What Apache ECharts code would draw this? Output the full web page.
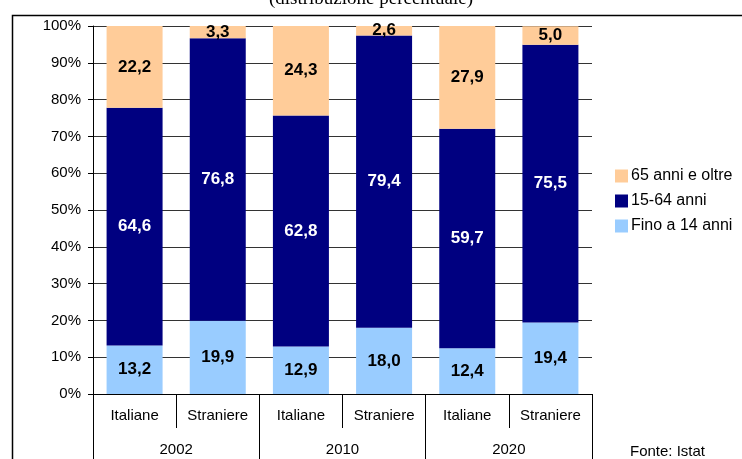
<!DOCTYPE html>
<html>
<head>
<meta charset="utf-8">
<script src="https://cdn.jsdelivr.net/npm/echarts@6/dist/echarts.min.js"></script>
<style>
  html, body { margin: 0; padding: 0; background: #fff; }
  #chart { width: 742px; height: 459px; }
</style>
</head>
<body>
<div id="chart"></div>
<script>
// categorie
const gruppi = ['Italiane', 'Straniere', 'Italiane', 'Straniere', 'Italiane', 'Straniere']
const anni = ['2002', '2010', '2020']
const yTicks = [0, 10, 20, 30, 40, 50, 60, 70, 80, 90, 100]

// valori (%)
const fino14 = [13.2, 19.9, 12.9, 18.0, 12.4, 19.4]
const da15a64 = [64.6, 76.8, 62.8, 79.4, 59.7, 75.5]
const oltre65 = [22.2, 3.3, 24.3, 2.6, 27.9, 5.0]

const FONT = 'Liberation Sans, Arial, sans-serif'

const chart = echarts.init(document.getElementById('chart'))

const fmt = (p) => p.value.toFixed(1).replace('.', ',')

const makeSerie = (name, data, color, labelColor) => ({
  name: name,
  type: 'bar',
  stack: 'tot',
  data: data,
  barWidth: 56,
  itemStyle: { color: color },
  label: {
    show: true,
    position: 'inside',
    formatter: fmt,
    color: labelColor,
    fontWeight: 'bold',
    fontSize: 17,
    fontFamily: FONT
  }
})

const options = {
  animation: false,
  backgroundColor: '#fff',
  title: {
    text: '(distribuzione percentuale)',
    left: 'center',
    top: -15,
    textStyle: {
      fontFamily: 'Liberation Serif, Times New Roman, serif',
      fontWeight: 'normal',
      fontSize: 19,
      color: '#000'
    }
  },
  graphic: [
    {
      type: 'rect',
      left: 10,
      top: 13,
      shape: { width: 800, height: 500 },
      style: { fill: 'none', stroke: '#000', lineWidth: 1.5 },
      z: 0
    },
    {
      type: 'text',
      left: 630,
      top: 444,
      style: { text: 'Fonte: Istat', fontSize: 15, fontFamily: FONT, fill: '#000' }
    }
  ],
  legend: {
    orient: 'vertical',
    left: 610,
    top: 163,
    itemWidth: 13,
    itemHeight: 13,
    itemGap: 9,
    icon: 'rect',
    data: ['65 anni e oltre', '15-64 anni', 'Fino a 14 anni'],
    textStyle: { fontSize: 16, fontFamily: FONT, color: '#000', padding: [0, 0, 0, -2] }
  },
  grid: {
    left: 93,
    right: 150,
    top: 26,
    bottom: 65
  },
  xAxis: [
    {
      type: 'category',
      data: gruppi,
      axisLine: { lineStyle: { color: '#000', width: 1 } },
      axisTick: { show: true, interval: 0, length: 34, lineStyle: { color: '#000' } },
      axisLabel: { interval: 0, margin: 14, fontSize: 15, fontFamily: FONT, color: '#000' }
    },
    {
      type: 'category',
      data: anni,
      position: 'bottom',
      axisLine: { show: false },
      axisTick: { show: true, interval: 0, length: 70, lineStyle: { color: '#000' } },
      axisLabel: { interval: 0, margin: 48, fontSize: 15, fontFamily: FONT, color: '#000' }
    }
  ],
  yAxis: {
    type: 'value',
    min: yTicks[0],
    max: yTicks[yTicks.length - 1],
    interval: 10,
    axisLine: { show: true, lineStyle: { color: '#000' } },
    axisTick: { show: true, length: 5, lineStyle: { color: '#000' } },
    axisLabel: {
      formatter: '{value}%',
      margin: 12,
      fontSize: 15,
      fontFamily: FONT,
      color: '#000'
    },
    splitLine: { show: true, lineStyle: { color: '#333', width: 1 } }
  },
  series: [
    makeSerie('Fino a 14 anni', fino14, '#99CCFF', '#000'),
    makeSerie('15-64 anni', da15a64, '#000080', '#fff'),
    makeSerie('65 anni e oltre', oltre65, '#FFCC99', '#000')
  ]
}

chart.setOption(options)
</script>
</body>
</html>
